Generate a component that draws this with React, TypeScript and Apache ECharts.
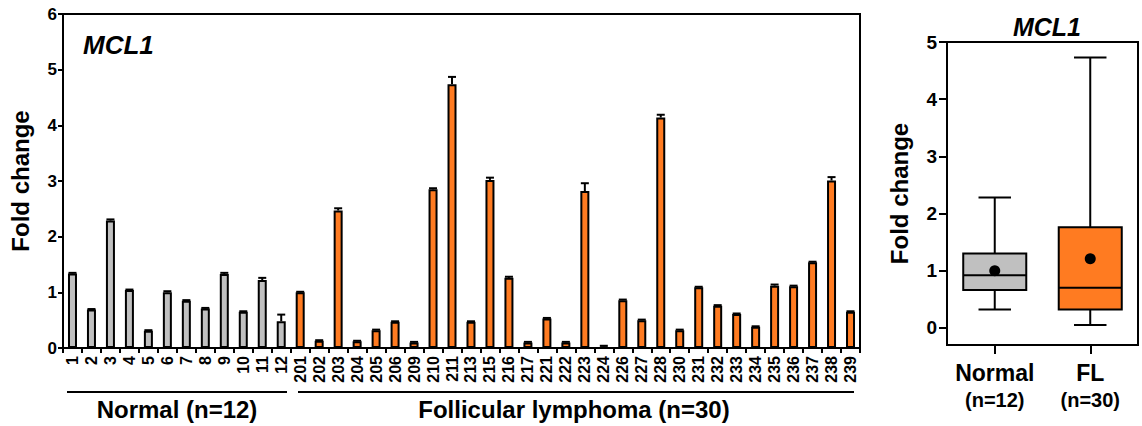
import React, { useEffect, useRef } from "react";
import * as echarts from "echarts";

const normalSamples = ["1", "2", "3", "4", "5", "6", "7", "8", "9", "10", "11", "12"];
const normalValues = [1.34, 0.69, 2.29, 1.04, 0.31, 1.0, 0.85, 0.71, 1.33, 0.65, 1.22, 0.48];
const normalErrors = [0.01, 0.01, 0.02, 0.01, 0.01, 0.02, 0.01, 0.01, 0.02, 0.01, 0.04, 0.12];

const flSamples = ["201", "202", "203", "204", "205", "206", "209", "210", "211", "213", "215", "216", "217", "221", "222", "223", "224", "226", "227", "228", "230", "231", "232", "233", "234", "235", "236", "237", "238", "239"];
const flValues = [1.0, 0.13, 2.47, 0.12, 0.32, 0.47, 0.1, 2.85, 4.74, 0.47, 3.02, 1.26, 0.1, 0.53, 0.1, 2.82, 0.03, 0.86, 0.5, 4.14, 0.32, 1.09, 0.76, 0.61, 0.38, 1.12, 1.11, 1.54, 3.01, 0.65];
const flErrors = [0.01, 0.01, 0.04, 0.01, 0.01, 0.01, 0.01, 0.02, 0.13, 0.01, 0.04, 0.02, 0.01, 0.01, 0.01, 0.14, 0.01, 0.01, 0.01, 0.05, 0.01, 0.01, 0.01, 0.01, 0.01, 0.02, 0.01, 0.01, 0.06, 0.01];

const yTicksBar = [0, 1, 2, 3, 4, 5, 6];
const yTicksBox = [0, 1, 2, 3, 4, 5];

const boxGroups = ["Normal", "FL"];
const boxGroupN = ["(n=12)", "(n=30)"];
// [min, Q1, median, Q3, max]
const normalBox = [0.32, 0.66, 0.92, 1.3, 2.28];
const flBox = [0.05, 0.32, 0.7, 1.76, 4.73];
const boxMeans = [1.0, 1.21];

const GRAY = "#c0c0c0";
const ORANGE = "#ff7b21";
const FONT = "'Liberation Sans', Arial, Helvetica, sans-serif";

export default function App() {
  const ref = useRef<HTMLDivElement>(null);

  useEffect(() => {
    if (!ref.current) return;
    const chart = echarts.init(ref.current, null, { renderer: "svg" });

    const categories = [...normalSamples, ...flSamples];
    const barData = [
      ...normalValues.map((v) => ({ value: v, itemStyle: { color: GRAY } })),
      ...flValues.map((v) => ({ value: v, itemStyle: { color: ORANGE } })),
    ];
    const allValues = [...normalValues, ...flValues];
    const allErrors = [...normalErrors, ...flErrors];
    const errData = allValues.map((v, i) => [i, v, v + allErrors[i]]);

    const boxData = [normalBox, flBox].map((b, i) => [i, ...b, boxMeans[i]]);
    const boxColors = [GRAY, ORANGE];

    const bold = { fontFamily: FONT, fontWeight: "bold" as const, color: "#000" };

    chart.setOption({
      animation: false,
      textStyle: { fontFamily: FONT },
      grid: [
        { left: 61, top: 14, width: 799, height: 334, show: true, borderColor: "#000", borderWidth: 2, backgroundColor: "transparent" },
        { left: 947, top: 42, width: 191, height: 303, show: true, borderColor: "#000", borderWidth: 2, backgroundColor: "transparent" },
      ],
      xAxis: [
        {
          type: "category",
          gridIndex: 0,
          data: categories,
          boundaryGap: true,
          axisLine: { lineStyle: { color: "#000", width: 2 } },
          axisTick: { show: true, length: 5, lineStyle: { color: "#000", width: 2 } },
          axisLabel: { interval: 0, rotate: 90, margin: 8, fontSize: 16, ...bold },
          splitLine: { show: false },
        },
        {
          type: "category",
          gridIndex: 1,
          data: boxGroups,
          boundaryGap: true,
          axisLine: { onZero: false, lineStyle: { color: "#000", width: 2 } },
          axisTick: { show: true, alignWithLabel: true, length: 9, lineStyle: { color: "#000", width: 2 } },
          axisLabel: {
            margin: 14,
            formatter: (v: string) => {
              const i = boxGroups.indexOf(v);
              return `{a|${v}}\n{b|${boxGroupN[i]}}`;
            },
            rich: {
              a: { fontSize: 23, lineHeight: 28, ...bold },
              b: { fontSize: 20, lineHeight: 26, ...bold },
            },
          },
        },
      ],
      yAxis: [
        {
          type: "value",
          gridIndex: 0,
          min: 0,
          max: 6,
          interval: 1,
          name: "Fold change",
          nameLocation: "middle",
          nameGap: 31,
          nameTextStyle: { fontSize: 24, ...bold },
          axisLine: { show: true, lineStyle: { color: "#000", width: 2 } },
          axisTick: { show: true, length: 5, lineStyle: { color: "#000", width: 2 } },
          axisLabel: { margin: 6, fontSize: 17, ...bold },
          splitLine: { show: false },
        },
        {
          type: "value",
          gridIndex: 1,
          min: -0.3,
          max: 5,
          name: "Fold change",
          nameLocation: "middle",
          nameGap: 36,
          nameTextStyle: { fontSize: 24, ...bold },
          axisLine: { show: true, lineStyle: { color: "#000", width: 2 } },
          axisTick: { show: true, length: 8, lineStyle: { color: "#000", width: 2 }, customValues: yTicksBox },
          axisLabel: { margin: 10, fontSize: 19, ...bold, customValues: yTicksBox },
          splitLine: { show: false },
        },
      ],
      series: [
        {
          type: "bar",
          xAxisIndex: 0,
          yAxisIndex: 0,
          data: barData,
          barWidth: 9,
          itemStyle: { borderColor: "#000", borderWidth: 2 },
        },
        {
          type: "custom",
          xAxisIndex: 0,
          yAxisIndex: 0,
          data: errData,
          encode: { x: 0, y: [1, 2] },
          z: 5,
          renderItem: (params: any, api: any) => {
            const i = api.value(0);
            const p0 = api.coord([i, api.value(1)]);
            const p1 = api.coord([i, api.value(2)]);
            const half = 4;
            return {
              type: "group",
              children: [
                { type: "line", shape: { x1: p0[0], y1: p0[1], x2: p1[0], y2: p1[1] }, style: { stroke: "#000", lineWidth: 2 } },
                { type: "line", shape: { x1: p1[0] - half, y1: p1[1], x2: p1[0] + half, y2: p1[1] }, style: { stroke: "#000", lineWidth: 2 } },
              ],
            };
          },
        },
        {
          type: "custom",
          xAxisIndex: 1,
          yAxisIndex: 1,
          data: boxData,
          encode: { x: 0, y: [1, 2, 3, 4, 5, 6] },
          renderItem: (params: any, api: any) => {
            const i = api.value(0);
            const pMin = api.coord([i, api.value(1)]);
            const pQ1 = api.coord([i, api.value(2)]);
            const pMed = api.coord([i, api.value(3)]);
            const pQ3 = api.coord([i, api.value(4)]);
            const pMax = api.coord([i, api.value(5)]);
            const pMean = api.coord([i, api.value(6)]);
            const band = api.size([1, 0])[0];
            const bw = band * 0.66;
            const cw = band * 0.34;
            const cx = pMin[0];
            const ls = { stroke: "#000", lineWidth: 2 };
            return {
              type: "group",
              children: [
                { type: "line", shape: { x1: cx, y1: pQ3[1], x2: cx, y2: pMax[1] }, style: ls },
                { type: "line", shape: { x1: cx, y1: pQ1[1], x2: cx, y2: pMin[1] }, style: ls },
                { type: "line", shape: { x1: cx - cw / 2, y1: pMax[1], x2: cx + cw / 2, y2: pMax[1] }, style: ls },
                { type: "line", shape: { x1: cx - cw / 2, y1: pMin[1], x2: cx + cw / 2, y2: pMin[1] }, style: ls },
                { type: "rect", shape: { x: cx - bw / 2, y: pQ3[1], width: bw, height: pQ1[1] - pQ3[1] }, style: { fill: boxColors[i], stroke: "#000", lineWidth: 2 } },
                { type: "line", shape: { x1: cx - bw / 2, y1: pMed[1], x2: cx + bw / 2, y2: pMed[1] }, style: ls },
                { type: "circle", shape: { cx: pMean[0], cy: pMean[1], r: 5.5 }, style: { fill: "#000" } },
              ],
            };
          },
        },
      ],
      graphic: [
        { type: "text", left: 83, top: 32, style: { text: "MCL1", font: `italic bold 26px ${FONT}`, fill: "#000" } },
        { type: "text", x: 1047, y: 27, style: { text: "MCL1", font: `italic bold 25px ${FONT}`, fill: "#000", align: "center", verticalAlign: "middle" } },
        { type: "line", shape: { x1: 67, y1: 392, x2: 287, y2: 392 }, style: { stroke: "#000", lineWidth: 2 } },
        { type: "line", shape: { x1: 298, y1: 392, x2: 854, y2: 392 }, style: { stroke: "#000", lineWidth: 2 } },
        { type: "text", x: 177, y: 409, style: { text: "Normal (n=12)", font: `bold 24px ${FONT}`, fill: "#000", align: "center", verticalAlign: "middle" } },
        { type: "text", x: 574, y: 409, style: { text: "Follicular lymphoma (n=30)", font: `bold 24px ${FONT}`, fill: "#000", align: "center", verticalAlign: "middle" } },
      ],
    });

    return () => chart.dispose();
  }, []);

  return <div ref={ref} style={{ position: "absolute", left: 0, top: 0, width: 1142, height: 426, background: "#fff" }} />;
}
